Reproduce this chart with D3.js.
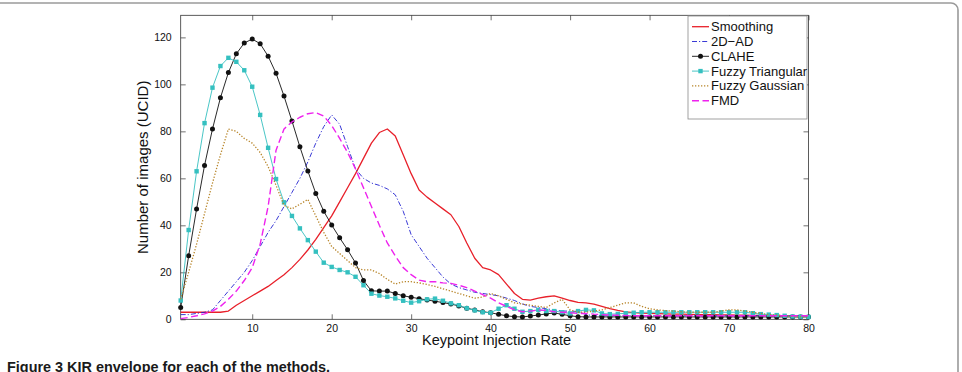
<!DOCTYPE html>
<html>
<head>
<meta charset="utf-8">
<script src="https://cdn.jsdelivr.net/npm/d3@7"></script>
<style>
  body { margin: 0; background: #fff; }
  svg { display: block; font-family: "Liberation Sans", Arial, sans-serif; }
</style>
</head>
<body>
<svg id="chart" width="962" height="372"></svg>
<script>
// --- DATA ---
const rates = d3.range(1, 81); // keypoint injection rate 1..80
const xTicks = [10, 20, 30, 40, 50, 60, 70, 80];
const yTicks = [0, 20, 40, 60, 80, 100, 120];
const yMax = 129.4;

const smoothing = [
  3, 3, 3, 3, 3, 3, 3.5, 6, 8, 10,
  12, 14, 16.5, 19, 22, 25.5, 29.5, 34, 39, 44,
  50, 56, 62, 68.5, 75, 79.5, 81, 78, 70, 62,
  55, 52, 49.5, 47, 44.5, 39.5, 32.5, 26, 22, 21,
  19, 15, 11, 8.5, 8.2, 9, 9.6, 10, 9, 8,
  7.2, 7, 6.5, 5.5, 4.5, 3.8, 3.2, 2.8, 2.6, 2.5,
  2.4, 2.3, 2.2, 2.2, 2.1, 2, 2, 2, 1.9, 1.9,
  1.8, 1.8, 1.7, 1.7, 1.6, 1.6, 1.5, 1.5, 1.5, 1.5
];
const ad2d = [
  2, 2, 2.5, 3, 4, 8, 12, 16, 20, 25,
  31, 37, 42, 48, 54, 60, 67, 75, 82, 87,
  83, 73.5, 64, 60, 58, 57, 55.5, 53, 46, 36,
  31, 26, 22, 18, 15, 13.5, 12.5, 11.5, 11, 10.5,
  10, 9, 8, 6.5, 5.5, 5, 4.5, 4, 3.5, 3.5,
  3.3, 2, 1.5, 1.5, 1.5, 1.5, 1.5, 1.5, 1.5, 1.5,
  1.5, 1.5, 1.5, 1.5, 1.5, 1.5, 1.5, 1.5, 1.5, 1.5,
  1.5, 1.5, 1.5, 1.5, 1.5, 1.5, 1.5, 1.5, 1.5, 1.5
];
const clahe = [
  5, 27, 47, 65.5, 81, 94.3, 105, 113, 117.6, 119.3,
  117.3, 112, 104.7, 95, 84.4, 73.4, 63.1, 53.6, 46, 40.1,
  34.7, 29.6, 24, 16.5, 12.1, 12, 12, 11, 10, 9.4,
  8.8, 8.2, 7.7, 7.1, 6.5, 5.7, 4.7, 4, 3.2, 2.8,
  2.1, 1.5, 1.1, 1, 1.4, 1.8, 2.3, 2.7, 2.1, 1.5,
  1.1, 1, 1, 1, 1, 1, 1, 1, 1, 1,
  1, 1, 1, 1, 1, 1, 1, 1, 1, 1,
  1, 1, 1, 1, 1, 1, 1, 1, 1, 1
];
const fuzzyTriangular = [
  8, 38, 63, 83.5, 98.6, 107.8, 111.3, 109.6, 106, 99,
  87, 73, 59.7, 49.8, 44, 38.7, 33.7, 28.8, 24.1, 22.3,
  21, 20, 18.1, 14.5, 10.9, 10.1, 9.6, 8.9, 7.9, 7.1,
  7.7, 8.5, 8.8, 7.9, 6.8, 6, 4.7, 3.8, 3, 2.8,
  4.5, 6, 4.5, 3.2, 3.5, 4, 3.5, 3.5, 3, 2.5,
  3.5, 4, 3.8, 2.5, 2.2, 2.3, 2.6, 2.8, 3, 3,
  3, 3, 3, 3, 3, 3, 3, 3, 3, 3,
  3, 3, 2.6, 2.2, 2, 1.8, 1.5, 1.2, 1.1, 1
];
const fuzzyGaussian = [
  8.5, 20, 32, 45, 58, 70, 81, 80, 77, 75,
  71, 65, 57, 48.5, 47, 49, 51, 44, 37, 31,
  28, 25, 22, 21, 21, 19.5, 17, 15, 16, 16,
  15.5, 14.8, 14, 13, 12, 11, 10, 9, 9.5, 11,
  10, 8.5, 7, 6.5, 6, 5.5, 5, 7, 8.5, 4,
  3, 3, 3.5, 4, 5, 6, 7, 7, 5.5, 4.5,
  4, 3.7, 3.5, 3.2, 3, 3, 3, 3, 3.5, 4,
  4, 3.5, 3, 2.5, 2, 1.8, 1.5, 1.2, 1, 1
];
const fmd = [
  0.3, 0.8, 1.5, 2.3, 3.5, 5.5, 8.5, 12, 16.5, 22,
  32, 48, 72, 81, 84, 86, 87.5, 88, 86.5, 82.5,
  77, 71, 64, 56, 48, 40, 32.5, 27, 22, 19,
  16.7, 16, 16, 15.5, 15.3, 14.5, 13.5, 12, 10.5, 9,
  7, 5.5, 4, 3.2, 3.5, 4, 3.8, 3.2, 3, 2.8,
  2.5, 2.5, 2.2, 2, 1.8, 1.7, 1.6, 1.5, 1.5, 1.5,
  1.5, 1.5, 1.5, 1.5, 1.5, 1.5, 1.5, 1.5, 1.5, 1.5,
  1.5, 1.5, 1.5, 1.5, 1.5, 1.5, 1.5, 1.5, 1.5, 1.5
];
const seriesNames = ['Smoothing', '2D\u2212AD', 'CLAHE', 'Fuzzy Triangular', 'Fuzzy Gaussian', 'FMD'];

// --- STYLES ---
const styles = [
  { color: '#e8202a', width: 1.3, dash: null, marker: null },
  { color: '#2424d0', width: 0.9, dash: '5,2,1.2,2', marker: null },
  { color: '#111111', width: 0.9, dash: null, marker: 'circle' },
  { color: '#35c0c0', width: 0.9, dash: null, marker: 'square' },
  { color: '#b8862b', width: 1.3, dash: '1.3,1.7', marker: null },
  { color: '#ee22ee', width: 1.4, dash: '7,3.5', marker: null }
];
const allSeries = [smoothing, ad2d, clahe, fuzzyTriangular, fuzzyGaussian, fmd];

const svg = d3.select('#chart');
const plot = { left: 180.7, right: 808.5, top: 15.3, bottom: 319.3 };

const x = d3.scaleLinear().domain([1, 80]).range([plot.left, plot.right]);
const y = d3.scaleLinear().domain([0, yMax]).range([plot.bottom, plot.top]);

// --- Outer figure frame ---
svg.append('path')
  .attr('d', 'M-2,3 H951 A7,7 0 0 1 958,10 V380')
  .attr('fill', 'none')
  .attr('stroke', '#9a9a9a')
  .attr('stroke-width', 1.6);

// --- Axes (inward ticks, MATLAB style) ---
const axisColor = '#333';
const styleAxis = g => {
  g.select('.domain').remove();
  g.selectAll('.tick line').attr('stroke', axisColor).attr('stroke-width', 0.7);
  g.selectAll('.tick text').attr('fill', '#111').style('font-size', '10.5px');
};

svg.append('g')
  .attr('transform', `translate(0,${plot.bottom})`)
  .call(d3.axisBottom(x).tickValues(xTicks).tickSizeInner(-5).tickSizeOuter(0).tickPadding(5.2))
  .call(styleAxis);
svg.append('g')
  .attr('transform', `translate(0,${plot.top})`)
  .call(d3.axisTop(x).tickValues(xTicks).tickSizeInner(-5).tickSizeOuter(0).tickFormat(''))
  .call(styleAxis);
svg.append('g')
  .attr('transform', `translate(${plot.left},0)`)
  .call(d3.axisLeft(y).tickValues(yTicks).tickSizeInner(-5).tickSizeOuter(0).tickPadding(9))
  .call(styleAxis);
svg.append('g')
  .attr('transform', `translate(${plot.right},0)`)
  .call(d3.axisRight(y).tickValues(yTicks).tickSizeInner(-5).tickSizeOuter(0).tickFormat(''))
  .call(styleAxis);

svg.append('rect')
  .attr('x', plot.left).attr('y', plot.top)
  .attr('width', plot.right - plot.left).attr('height', plot.bottom - plot.top)
  .attr('fill', 'none').attr('stroke', axisColor).attr('stroke-width', 0.8);

// --- Lines ---
const line = d3.line().x((d, i) => x(rates[i])).y(d => y(d));
svg.append('defs').append('clipPath').attr('id', 'plot-clip')
  .append('rect')
  .attr('x', plot.left - 4).attr('y', plot.top)
  .attr('width', plot.right - plot.left + 8).attr('height', plot.bottom - plot.top + 4);

const layer = svg.append('g').attr('clip-path', 'url(#plot-clip)');

allSeries.forEach((values, k) => {
  const s = styles[k];
  const g = layer.append('g').attr('class', 'series');
  g.append('path')
    .datum(values)
    .attr('d', line)
    .attr('fill', 'none')
    .attr('stroke', s.color)
    .attr('stroke-width', s.width)
    .attr('stroke-dasharray', s.dash)
    .attr('stroke-linejoin', 'round');

  if (s.marker === 'circle') {
    g.selectAll('circle').data(values).enter().append('circle')
      .attr('cx', (d, i) => x(rates[i]))
      .attr('cy', d => y(d))
      .attr('r', 2.5)
      .attr('fill', s.color);
  } else if (s.marker === 'square') {
    g.selectAll('rect').data(values).enter().append('rect')
      .attr('x', (d, i) => x(rates[i]) - 2.2)
      .attr('y', d => y(d) - 2.2)
      .attr('width', 4.4).attr('height', 4.4)
      .attr('fill', s.color);
  }
});

// --- Legend ---
const legend = svg.append('g').attr('transform', 'translate(688,16)');
legend.append('rect')
  .attr('width', 119).attr('height', 103)
  .attr('fill', '#fff').attr('stroke', '#8a8a8a').attr('stroke-width', 0.8);

seriesNames.forEach((name, k) => {
  const s = styles[k];
  const ly = 10.7 + k * 14.8;
  const item = legend.append('g').attr('transform', `translate(0,${ly})`);
  item.append('line')
    .attr('x1', 4).attr('x2', 21).attr('y1', 0).attr('y2', 0)
    .attr('stroke', s.color).attr('stroke-width', s.width)
    .attr('stroke-dasharray', s.dash);
  if (s.marker === 'circle') {
    item.append('circle').attr('cx', 12.5).attr('cy', 0).attr('r', 2.5).attr('fill', s.color);
  } else if (s.marker === 'square') {
    item.append('rect').attr('x', 10.3).attr('y', -2.2).attr('width', 4.4).attr('height', 4.4).attr('fill', s.color);
  }
  item.append('text')
    .attr('x', 23).attr('y', 0).attr('dy', '0.35em')
    .style('font-size', '13px').attr('fill', '#111')
    .text(name);
});

// --- Axis labels ---
svg.append('text')
  .attr('x', (plot.left + plot.right) / 2 + 2).attr('y', 345)
  .attr('text-anchor', 'middle')
  .style('font-size', '14.5px').attr('fill', '#111')
  .text('Keypoint Injection Rate');

svg.append('text')
  .attr('transform', `translate(148,${(plot.top + plot.bottom) / 2}) rotate(-90)`)
  .attr('text-anchor', 'middle')
  .style('font-size', '15px').attr('fill', '#111')
  .text('Number of images (UCID)');

// --- Caption ---
const caption = svg.append('text')
  .attr('x', 7).attr('y', 372)
  .style('font-size', '14px').style('font-weight', 'bold')
  .attr('fill', '#1a1a1a')
  .attr('textLength', 323).attr('lengthAdjust', 'spacingAndGlyphs');
caption.append('tspan').text('Figure 3');
caption.append('tspan').text(' KIR envelope for each of the methods.');
</script>
</body>
</html>
